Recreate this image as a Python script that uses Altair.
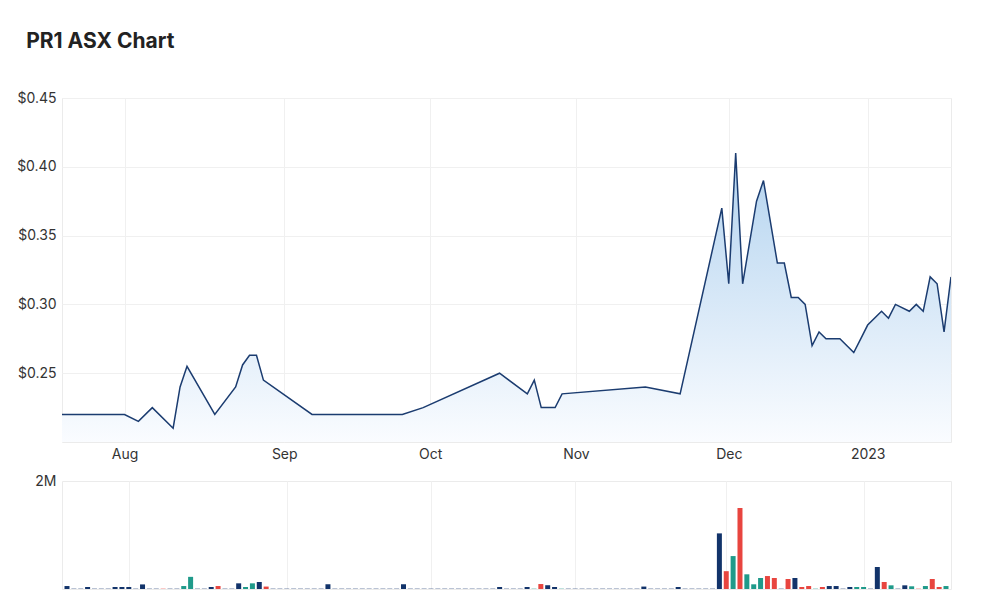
import altair as alt
import pandas as pd

# ---- price line (trading-day index -> close) ----
price_idx = [0, 9, 11, 13, 16, 17, 18, 22, 25, 26,
             27, 28, 29, 36, 49, 52, 63, 67, 68, 69,
             71, 72, 84, 89, 95, 96, 97, 98, 100, 101,
             103, 104, 105, 106, 107, 108, 109, 110, 112, 114,
             115, 116, 118, 119, 120, 122, 123, 124, 125, 126,
             127, 128]
price = [0.22, 0.22, 0.215, 0.225, 0.21, 0.24, 0.255, 0.22, 0.24, 0.256,
         0.263, 0.263, 0.245, 0.22, 0.22, 0.225, 0.25, 0.235, 0.245, 0.225,
         0.225, 0.235, 0.24, 0.235, 0.37, 0.315, 0.41, 0.315, 0.375, 0.39,
         0.33, 0.33, 0.305, 0.305, 0.30, 0.27, 0.28, 0.275, 0.275, 0.265,
         0.275, 0.285, 0.295, 0.29, 0.30, 0.295, 0.30, 0.295, 0.32, 0.315,
         0.28, 0.32]

# ---- volume per trading day (thousands) and direction ----
vol_k = [55, 12, 12, 37, 12, 12, 12, 37, 37, 37,
         12, 85, 12, 12, 12, 12, 12, 55, 225, 12,
         12, 37, 55, 12, 12, 105, 37, 105, 130, 45,
         12, 12, 12, 12, 12, 12, 12, 12, 88, 12,
         12, 12, 12, 12, 12, 12, 12, 12, 12, 88,
         12, 12, 12, 12, 12, 12, 12, 12, 12, 12,
         12, 12, 12, 37, 12, 12, 12, 37, 12, 92,
         70, 37, 12, 12, 12, 12, 12, 12, 12, 12,
         12, 12, 12, 12, 45, 12, 12, 12, 12, 37,
         12, 12, 12, 12, 12, 1030, 330, 610, 1500, 272,
         87, 204, 240, 204, 12, 185, 204, 37, 55, 12,
         37, 55, 55, 12, 37, 37, 37, 12, 407, 130,
         68, 12, 68, 50, 12, 55, 185, 37, 55]
vol_dir = ["F", "F", "F", "F", "F", "F", "F", "F", "F", "F",
           "F", "F", "F", "F", "D", "F", "F", "U", "U", "F",
           "F", "F", "D", "F", "F", "F", "U", "U", "F", "D",
           "F", "F", "F", "F", "F", "F", "F", "F", "F", "F",
           "F", "F", "F", "F", "F", "F", "F", "F", "F", "F",
           "F", "F", "F", "F", "F", "F", "F", "F", "F", "F",
           "F", "F", "F", "F", "F", "F", "F", "F", "U", "D",
           "F", "F", "U", "F", "F", "F", "F", "F", "F", "F",
           "F", "F", "F", "F", "F", "F", "F", "F", "F", "F",
           "F", "F", "F", "F", "F", "F", "D", "U", "D", "U",
           "U", "U", "D", "D", "F", "D", "F", "D", "D", "U",
           "D", "F", "F", "F", "F", "U", "U", "F", "F", "D",
           "U", "F", "F", "U", "D", "U", "D", "D", "U"]

month_idx = [9, 32, 53, 74, 96, 116]
month_labels = ["Aug", "Sep", "Oct", "Nov", "Dec", "2023"]
price_ticks = [0.25, 0.30, 0.35, 0.40, 0.45]

price_df = pd.DataFrame({"i": price_idx, "price": price})
vol_df = pd.DataFrame({"i": list(range(len(vol_k))),
                       "volume": [v * 1000 for v in vol_k],
                       "dir": vol_dir})

label_expr = " : ".join(f"datum.value == {m} ? '{l}'" for m, l in zip(month_idx, month_labels)) + " : ''"

FONT = "Inter"
xscale = alt.Scale(domain=[0, 128], nice=False, zero=False)

x_price = alt.X("i:Q", scale=xscale,
                axis=alt.Axis(values=month_idx, labelExpr=label_expr, title=None, grid=True,
                              ticks=False, domain=False, labelPadding=5, labelFontSize=14))
y_price = alt.Y("price:Q", scale=alt.Scale(domain=[0.2, 0.45], nice=False, zero=False),
                axis=alt.Axis(values=price_ticks, format="$.2f", title=None, ticks=False,
                              domain=False, labelPadding=6, labelFontSize=14))

grad = alt.Gradient(gradient="linear",
                    stops=[alt.GradientStop(color="#fafcff", offset=0),
                           alt.GradientStop(color="#b3d3ef", offset=1)],
                    x1=1, x2=1, y1=1, y2=0)

area = alt.Chart(price_df).mark_area(color=grad, clip=True).encode(
    x=x_price, y=y_price, y2=alt.datum(0.2))
line = alt.Chart(price_df).mark_line(color="#1b3c70", strokeWidth=1.5, clip=True).encode(
    x="i:Q", y="price:Q")
price_chart = alt.layer(area, line).properties(width=889, height=344)

vol_chart = alt.Chart(vol_df).mark_bar(size=5, clip=True).encode(
    x=alt.X("i:Q", scale=xscale,
            axis=alt.Axis(values=month_idx, labels=False, ticks=False, domain=False,
                          title=None, grid=True)),
    y=alt.Y("volume:Q", scale=alt.Scale(domain=[0, 2000000], nice=False),
            axis=alt.Axis(values=[2000000], format="~s", grid=False, ticks=False,
                          domain=False, title=None, labelPadding=6, labelFontSize=14)),
    color=alt.Color("dir:N", scale=alt.Scale(domain=["F", "U", "D"],
                                             range=["#12336a", "#1f9a8a", "#e8453f"]),
                    legend=None),
    opacity=alt.condition("datum.volume < 20000", alt.value(0.45), alt.value(1.0)),
).properties(width=889, height=108)

chart = alt.vconcat(price_chart, vol_chart, spacing=39, bounds="flush").properties(
    title=alt.TitleParams("PR1 ASX Chart", anchor="start", fontSize=21, fontWeight="bold",
                          font=FONT, color="#222222", dx=10, offset=39),
    padding={"left": 16, "top": 30, "right": 48, "bottom": 23},
    background="white",
).configure_view(stroke="#ebebeb").configure_axis(
    gridColor="#f0f0f0", labelColor="#333333", labelFont=FONT
)

chart.save("out.html", embed_options={"renderer": "svg", "actions": False})
